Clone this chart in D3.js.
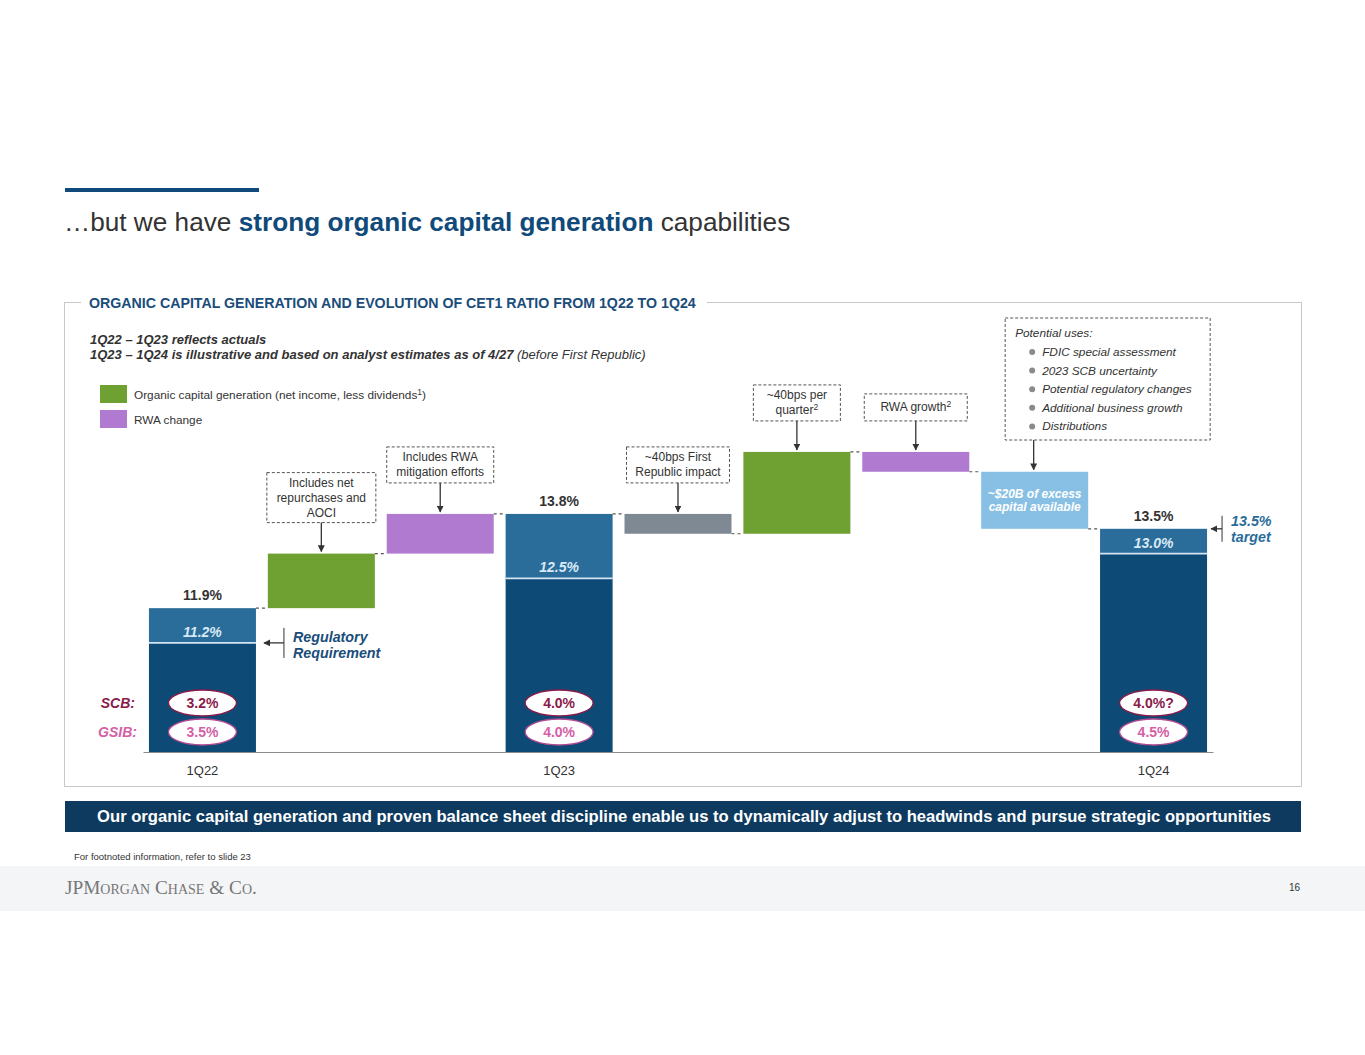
<!DOCTYPE html>
<html>
<head>
<meta charset="utf-8">
<script src="https://cdn.jsdelivr.net/npm/d3@7"></script>
<style>
  body { margin: 0; background: #fff; }
  text { font-family: "Liberation Sans", Arial, sans-serif; }
</style>
</head>
<body>
<div id="chart"></div>
<script>
// data for the waterfall
var steps = ["1Q22", "Net repurchases", "RWA mitigation", "1Q23", "First Republic", "Organic generation", "RWA growth", "Excess capital", "1Q24"];
var kinds = ["total", "green", "purple", "total", "gray", "green", "purple", "excess", "total"];
var values = [11.9, 1.1, 0.8, 13.8, -0.4, 1.65, -0.4, -1.15, 13.5];
var requirement = [11.2, null, null, 12.5, null, null, null, null, 13.0];
var tickLabels = ["1Q22", "1Q23", "1Q24"];
var scbLabels = ["3.2%", "4.0%", "4.0%?"];
var gsibLabels = ["3.5%", "4.0%", "4.5%"];

var svgWidth = 1365, svgHeight = 1055;

var colors = {
  total: "#2a6d9a",
  base: "#0d4a75",
  green: "#6fa032",
  purple: "#b07ad0",
  gray: "#7e8994",
  excess: "#88bfe4"
};

var svg = d3.select("#chart")
  .append("svg")
  .attr("width", svgWidth)
  .attr("height", svgHeight);

// arrow head marker
svg.append("defs").append("marker")
  .attr("id", "arrow")
  .attr("viewBox", "0 0 10 10")
  .attr("refX", 9).attr("refY", 5)
  .attr("markerWidth", 7).attr("markerHeight", 7)
  .attr("markerUnits", "userSpaceOnUse")
  .attr("orient", "auto")
  .append("path")
  .attr("d", "M0,0 L10,5 L0,10 z")
  .attr("fill", "#333");

// ---------- slide header ----------
svg.append("rect").attr("x", 65).attr("y", 188).attr("width", 194).attr("height", 4).attr("fill", "#0f4a7a");

var title = svg.append("text").attr("x", 64).attr("y", 231).attr("font-size", 26.2).attr("fill", "#333");
title.append("tspan").text("\u2026but we have ");
title.append("tspan").attr("font-weight", "bold").attr("fill", "#0f4a7a").text("strong organic capital generation");
title.append("tspan").text(" capabilities");

// ---------- panel ----------
svg.append("rect")
  .attr("x", 64.5).attr("y", 302.5)
  .attr("width", 1237).attr("height", 484)
  .attr("fill", "none").attr("stroke", "#c8c8c8");

svg.append("rect").attr("x", 81).attr("y", 296).attr("width", 626).attr("height", 12).attr("fill", "#fff");
svg.append("text")
  .attr("x", 89).attr("y", 308)
  .attr("font-size", 14.2).attr("font-weight", "bold").attr("fill", "#1a4d7a")
  .text("ORGANIC CAPITAL GENERATION AND EVOLUTION OF CET1 RATIO FROM 1Q22 TO 1Q24");

svg.append("text")
  .attr("x", 90).attr("y", 344)
  .attr("font-size", 13).attr("font-weight", "bold").attr("font-style", "italic").attr("fill", "#333")
  .text("1Q22 \u2013 1Q23 reflects actuals");
var note2 = svg.append("text")
  .attr("x", 90).attr("y", 359)
  .attr("font-size", 13).attr("font-style", "italic").attr("fill", "#333");
note2.append("tspan").attr("font-weight", "bold").text("1Q23 \u2013 1Q24 is illustrative and based on analyst estimates as of 4/27");
note2.append("tspan").text(" (before First Republic)");

// legend
var legendItems = [
  { color: colors.green, label: "Organic capital generation (net income, less dividends", sup: "1", after: ")" },
  { color: colors.purple, label: "RWA change", sup: "", after: "" }
];
var legend = svg.append("g").attr("transform", "translate(100,385)");
legendItems.forEach(function(d, i) {
  legend.append("rect").attr("x", 0).attr("y", i * 25).attr("width", 27).attr("height", 18).attr("fill", d.color);
  var t = legend.append("text").attr("x", 34).attr("y", i * 25 + 14).attr("font-size", 11.8).attr("fill", "#333");
  t.append("tspan").text(d.label);
  if (d.sup) {
    t.append("tspan").attr("font-size", 8.5).attr("dy", -4).text(d.sup);
    t.append("tspan").attr("dy", 4).text(d.after);
  }
});

// ---------- scales ----------
var baseY = 752;
var xScale = d3.scaleBand()
  .domain(steps)
  .range([143, 1213])
  .paddingInner(0.1)
  .paddingOuter(0.05);

var yScale = d3.scaleLinear()
  .domain([9, 16])
  .range([baseY, baseY - 7 * 49.6]);

var bw = xScale.bandwidth();

// running waterfall values
var running = 0;
var bars = steps.map(function(s, i) {
  var start, end;
  if (kinds[i] === "total") {
    start = 9; end = values[i]; running = values[i];
  } else {
    start = running; end = running + values[i]; running = end;
  }
  return { step: s, kind: kinds[i], start: start, end: end, req: requirement[i], level: running };
});

var chart = svg.append("g");

// connector dashes
chart.selectAll(".connector")
  .data(bars.slice(0, -1))
  .enter().append("line")
  .attr("class", "connector")
  .attr("x1", function(d) { return xScale(d.step) + bw; })
  .attr("x2", function(d, i) { return xScale(steps[i + 1]); })
  .attr("y1", function(d) { return yScale(d.level); })
  .attr("y2", function(d) { return yScale(d.level); })
  .attr("stroke", "#555").attr("stroke-width", 1.2).attr("stroke-dasharray", "3,3");

// floating bars
var floats = bars.filter(function(d) { return d.kind !== "total"; });
chart.selectAll(".float")
  .data(floats)
  .enter().append("rect")
  .attr("class", "float")
  .attr("x", function(d) { return xScale(d.step); })
  .attr("width", bw)
  .attr("y", function(d) { return yScale(Math.max(d.start, d.end)); })
  .attr("height", function(d) { return Math.abs(yScale(d.start) - yScale(d.end)); })
  .attr("fill", function(d) { return colors[d.kind]; });

// total bars (upper part + regulatory base)
var totals = bars.filter(function(d) { return d.kind === "total"; });
chart.selectAll(".total")
  .data(totals)
  .enter().append("rect")
  .attr("x", function(d) { return xScale(d.step); })
  .attr("width", bw)
  .attr("y", function(d) { return yScale(d.end); })
  .attr("height", function(d) { return yScale(d.req) - yScale(d.end); })
  .attr("fill", colors.total);
chart.selectAll(".base")
  .data(totals)
  .enter().append("rect")
  .attr("x", function(d) { return xScale(d.step); })
  .attr("width", bw)
  .attr("y", function(d) { return yScale(d.req); })
  .attr("height", function(d) { return baseY - yScale(d.req); })
  .attr("fill", colors.base);
chart.selectAll(".sep")
  .data(totals)
  .enter().append("line")
  .attr("x1", function(d) { return xScale(d.step); })
  .attr("x2", function(d) { return xScale(d.step) + bw; })
  .attr("y1", function(d) { return yScale(d.req); })
  .attr("y2", function(d) { return yScale(d.req); })
  .attr("stroke", "#d4e6f4").attr("stroke-width", 1.6);

// value labels
chart.selectAll(".vlabel")
  .data(totals)
  .enter().append("text")
  .attr("x", function(d) { return xScale(d.step) + bw / 2; })
  .attr("y", function(d) { return yScale(d.end) - 8; })
  .attr("text-anchor", "middle")
  .attr("font-size", 14).attr("font-weight", "bold").attr("fill", "#333")
  .text(function(d) { return d.end.toFixed(1) + "%"; });
chart.selectAll(".rlabel")
  .data(totals)
  .enter().append("text")
  .attr("x", function(d) { return xScale(d.step) + bw / 2; })
  .attr("y", function(d) { return yScale(d.req) - 6; })
  .attr("text-anchor", "middle")
  .attr("font-size", 14).attr("font-weight", "bold").attr("font-style", "italic").attr("fill", "#d9e9f6")
  .text(function(d) { return d.req.toFixed(1) + "%"; });

// excess capital text inside the light blue bar
var excess = bars[7];
var exText = chart.append("text")
  .attr("text-anchor", "middle")
  .attr("font-size", 12).attr("font-weight", "bold").attr("font-style", "italic").attr("fill", "#fff");
["~$20B of excess", "capital available"].forEach(function(line, i) {
  exText.append("tspan")
    .attr("x", xScale(excess.step) + bw / 2)
    .attr("y", yScale(excess.start) + 26 + i * 13)
    .text(line);
});

// x axis
var xAxis = d3.axisBottom(xScale)
  .tickValues(tickLabels)
  .tickSize(0)
  .tickPadding(14);
var xAxisG = chart.append("g")
  .attr("transform", "translate(0," + baseY + ")")
  .call(xAxis);
xAxisG.select(".domain").attr("stroke", "#8c8c8c").attr("stroke-width", 1.2);
xAxisG.selectAll("text")
  .attr("font-size", 13).attr("fill", "#333")
  .style("font-family", "'Liberation Sans', Arial, sans-serif");

// SCB / GSIB ovals
function ovals(labels, cy, stroke, color) {
  var g = chart.selectAll(null)
    .data(totals)
    .enter().append("g")
    .attr("transform", function(d) { return "translate(" + (xScale(d.step) + bw / 2) + "," + cy + ")"; });
  g.append("ellipse").attr("rx", 34).attr("ry", 13).attr("fill", "#fff").attr("stroke", stroke).attr("stroke-width", 1.3);
  g.append("text")
    .attr("y", 5)
    .attr("text-anchor", "middle")
    .attr("font-size", 14).attr("font-weight", "bold").attr("fill", color)
    .text(function(d, i) { return labels[i]; });
}
ovals(scbLabels, 703, "#8a1a4a", "#8a1a4a");
ovals(gsibLabels, 732, "#b04a92", "#d460a6");

chart.append("text").attr("x", 135).attr("y", 708).attr("text-anchor", "end")
  .attr("font-size", 14).attr("font-weight", "bold").attr("font-style", "italic").attr("fill", "#8a1a4a").text("SCB:");
chart.append("text").attr("x", 137).attr("y", 737).attr("text-anchor", "end")
  .attr("font-size", 14).attr("font-weight", "bold").attr("font-style", "italic").attr("fill", "#d460a6").text("GSIB:");

// Regulatory requirement callout
var regY = yScale(requirement[0]);
var regX = xScale(steps[0]) + bw;
chart.append("line").attr("x1", regX + 28).attr("x2", regX + 8).attr("y1", regY).attr("y2", regY)
  .attr("stroke", "#333").attr("stroke-width", 1.3).attr("marker-end", "url(#arrow)");
chart.append("line").attr("x1", regX + 28).attr("x2", regX + 28).attr("y1", regY - 15).attr("y2", regY + 15)
  .attr("stroke", "#333").attr("stroke-width", 1);
var regText = chart.append("text").attr("font-size", 14.3).attr("font-weight", "bold").attr("font-style", "italic").attr("fill", "#1a4d7a");
regText.append("tspan").attr("x", regX + 37).attr("y", regY - 1).text("Regulatory");
regText.append("tspan").attr("x", regX + 37).attr("y", regY + 15).text("Requirement");

// 13.5% target callout
var tgtY = yScale(values[8]);
var tgtX = xScale(steps[8]) + bw;
chart.append("line").attr("x1", tgtX + 15).attr("x2", tgtX + 4).attr("y1", tgtY).attr("y2", tgtY)
  .attr("stroke", "#333").attr("stroke-width", 1.3).attr("marker-end", "url(#arrow)");
chart.append("line").attr("x1", tgtX + 15).attr("x2", tgtX + 15).attr("y1", tgtY - 13).attr("y2", tgtY + 13)
  .attr("stroke", "#333").attr("stroke-width", 1);
var tgtText = chart.append("text").attr("font-size", 14.3).attr("font-weight", "bold").attr("font-style", "italic").attr("fill", "#2a6d9a");
tgtText.append("tspan").attr("x", tgtX + 24).attr("y", tgtY - 3).text("13.5%");
tgtText.append("tspan").attr("x", tgtX + 24).attr("y", tgtY + 13).text("target");

// ---------- dashed annotation boxes ----------
var notes = [
  { i: 1, w: 109, h: 50, lines: ["Includes net", "repurchases and", "AOCI"] },
  { i: 2, w: 107, h: 36, lines: ["Includes RWA", "mitigation efforts"] },
  { i: 4, w: 103, h: 36, lines: ["~40bps First", "Republic impact"] },
  { i: 5, w: 87, h: 36, lines: ["~40bps per", "quarter|2"] },
  { i: 6, w: 103, h: 27, lines: ["RWA growth|2"] }
];
notes.forEach(function(n) {
  var b = bars[n.i];
  var cx = xScale(b.step) + bw / 2;
  var top = yScale(Math.max(b.start, b.end));
  var boxBottom = top - 31;
  var g = chart.append("g");
  g.append("rect")
    .attr("x", cx - n.w / 2).attr("y", boxBottom - n.h)
    .attr("width", n.w).attr("height", n.h)
    .attr("fill", "#fff").attr("stroke", "#555").attr("stroke-dasharray", "3,2");
  var t = g.append("text").attr("text-anchor", "middle").attr("font-size", 12).attr("fill", "#333");
  var y0 = boxBottom - n.h / 2 - (n.lines.length - 1) * 7.5 + 4;
  n.lines.forEach(function(line, k) {
    var parts = line.split("|");
    t.append("tspan").attr("x", cx).attr("y", y0 + k * 15).text(parts[0]);
    if (parts[1]) {
      t.append("tspan").attr("font-size", 8.5).attr("dy", -4).text(parts[1]);
    }
  });
  g.append("line").attr("x1", cx).attr("x2", cx).attr("y1", boxBottom).attr("y2", top - 2)
    .attr("stroke", "#333").attr("stroke-width", 1.3).attr("marker-end", "url(#arrow)");
});

// potential uses box
var uses = ["FDIC special assessment", "2023 SCB uncertainty", "Potential regulatory changes", "Additional business growth", "Distributions"];
var exTop = yScale(excess.start);
var exCx = xScale(excess.step) + bw / 2;
var ub = { x: xScale(excess.step) + 24, y: 318, w: 205, h: 122 };
var ug = chart.append("g");
ug.append("rect").attr("x", ub.x).attr("y", ub.y).attr("width", ub.w).attr("height", ub.h)
  .attr("fill", "#fff").attr("stroke", "#555").attr("stroke-dasharray", "3,2");
ug.append("text").attr("x", ub.x + 10).attr("y", ub.y + 19)
  .attr("font-size", 11.8).attr("font-style", "italic").attr("fill", "#333").text("Potential uses:");
uses.forEach(function(u, k) {
  var yy = ub.y + 38 + k * 18.6;
  ug.append("circle").attr("cx", ub.x + 27).attr("cy", yy - 4).attr("r", 3).attr("fill", "#8a8a8a");
  ug.append("text").attr("x", ub.x + 37).attr("y", yy)
    .attr("font-size", 11.8).attr("font-style", "italic").attr("fill", "#333").text(u);
});
ug.append("line").attr("x1", exCx - 1).attr("x2", exCx - 1).attr("y1", ub.y + ub.h).attr("y2", exTop - 2)
  .attr("stroke", "#333").attr("stroke-width", 1.3).attr("marker-end", "url(#arrow)");

// ---------- bottom banner and footer ----------
svg.append("rect").attr("x", 65).attr("y", 801).attr("width", 1236).attr("height", 31).attr("fill", "#0d3a5e");
svg.append("text").attr("x", 684).attr("y", 822).attr("text-anchor", "middle")
  .attr("font-size", 16.6).attr("font-weight", "bold").attr("fill", "#fff")
  .text("Our organic capital generation and proven balance sheet discipline enable us to dynamically adjust to headwinds and pursue strategic opportunities");

svg.append("text").attr("x", 74).attr("y", 860).attr("font-size", 9.5).attr("fill", "#333")
  .text("For footnoted information, refer to slide 23");

svg.append("rect").attr("x", 0).attr("y", 866).attr("width", svgWidth).attr("height", 45).attr("fill", "#f4f5f7");
svg.append("text").attr("x", 65).attr("y", 894)
  .attr("font-size", 19.3).attr("fill", "#777")
  .style("font-family", "'Liberation Serif', 'Times New Roman', serif")
  .style("font-variant", "small-caps")
  .text("JPMorgan Chase & Co.");
svg.append("text").attr("x", 1300).attr("y", 891).attr("text-anchor", "end")
  .attr("font-size", 10).attr("fill", "#333").text("16");
</script>
</body>
</html>
